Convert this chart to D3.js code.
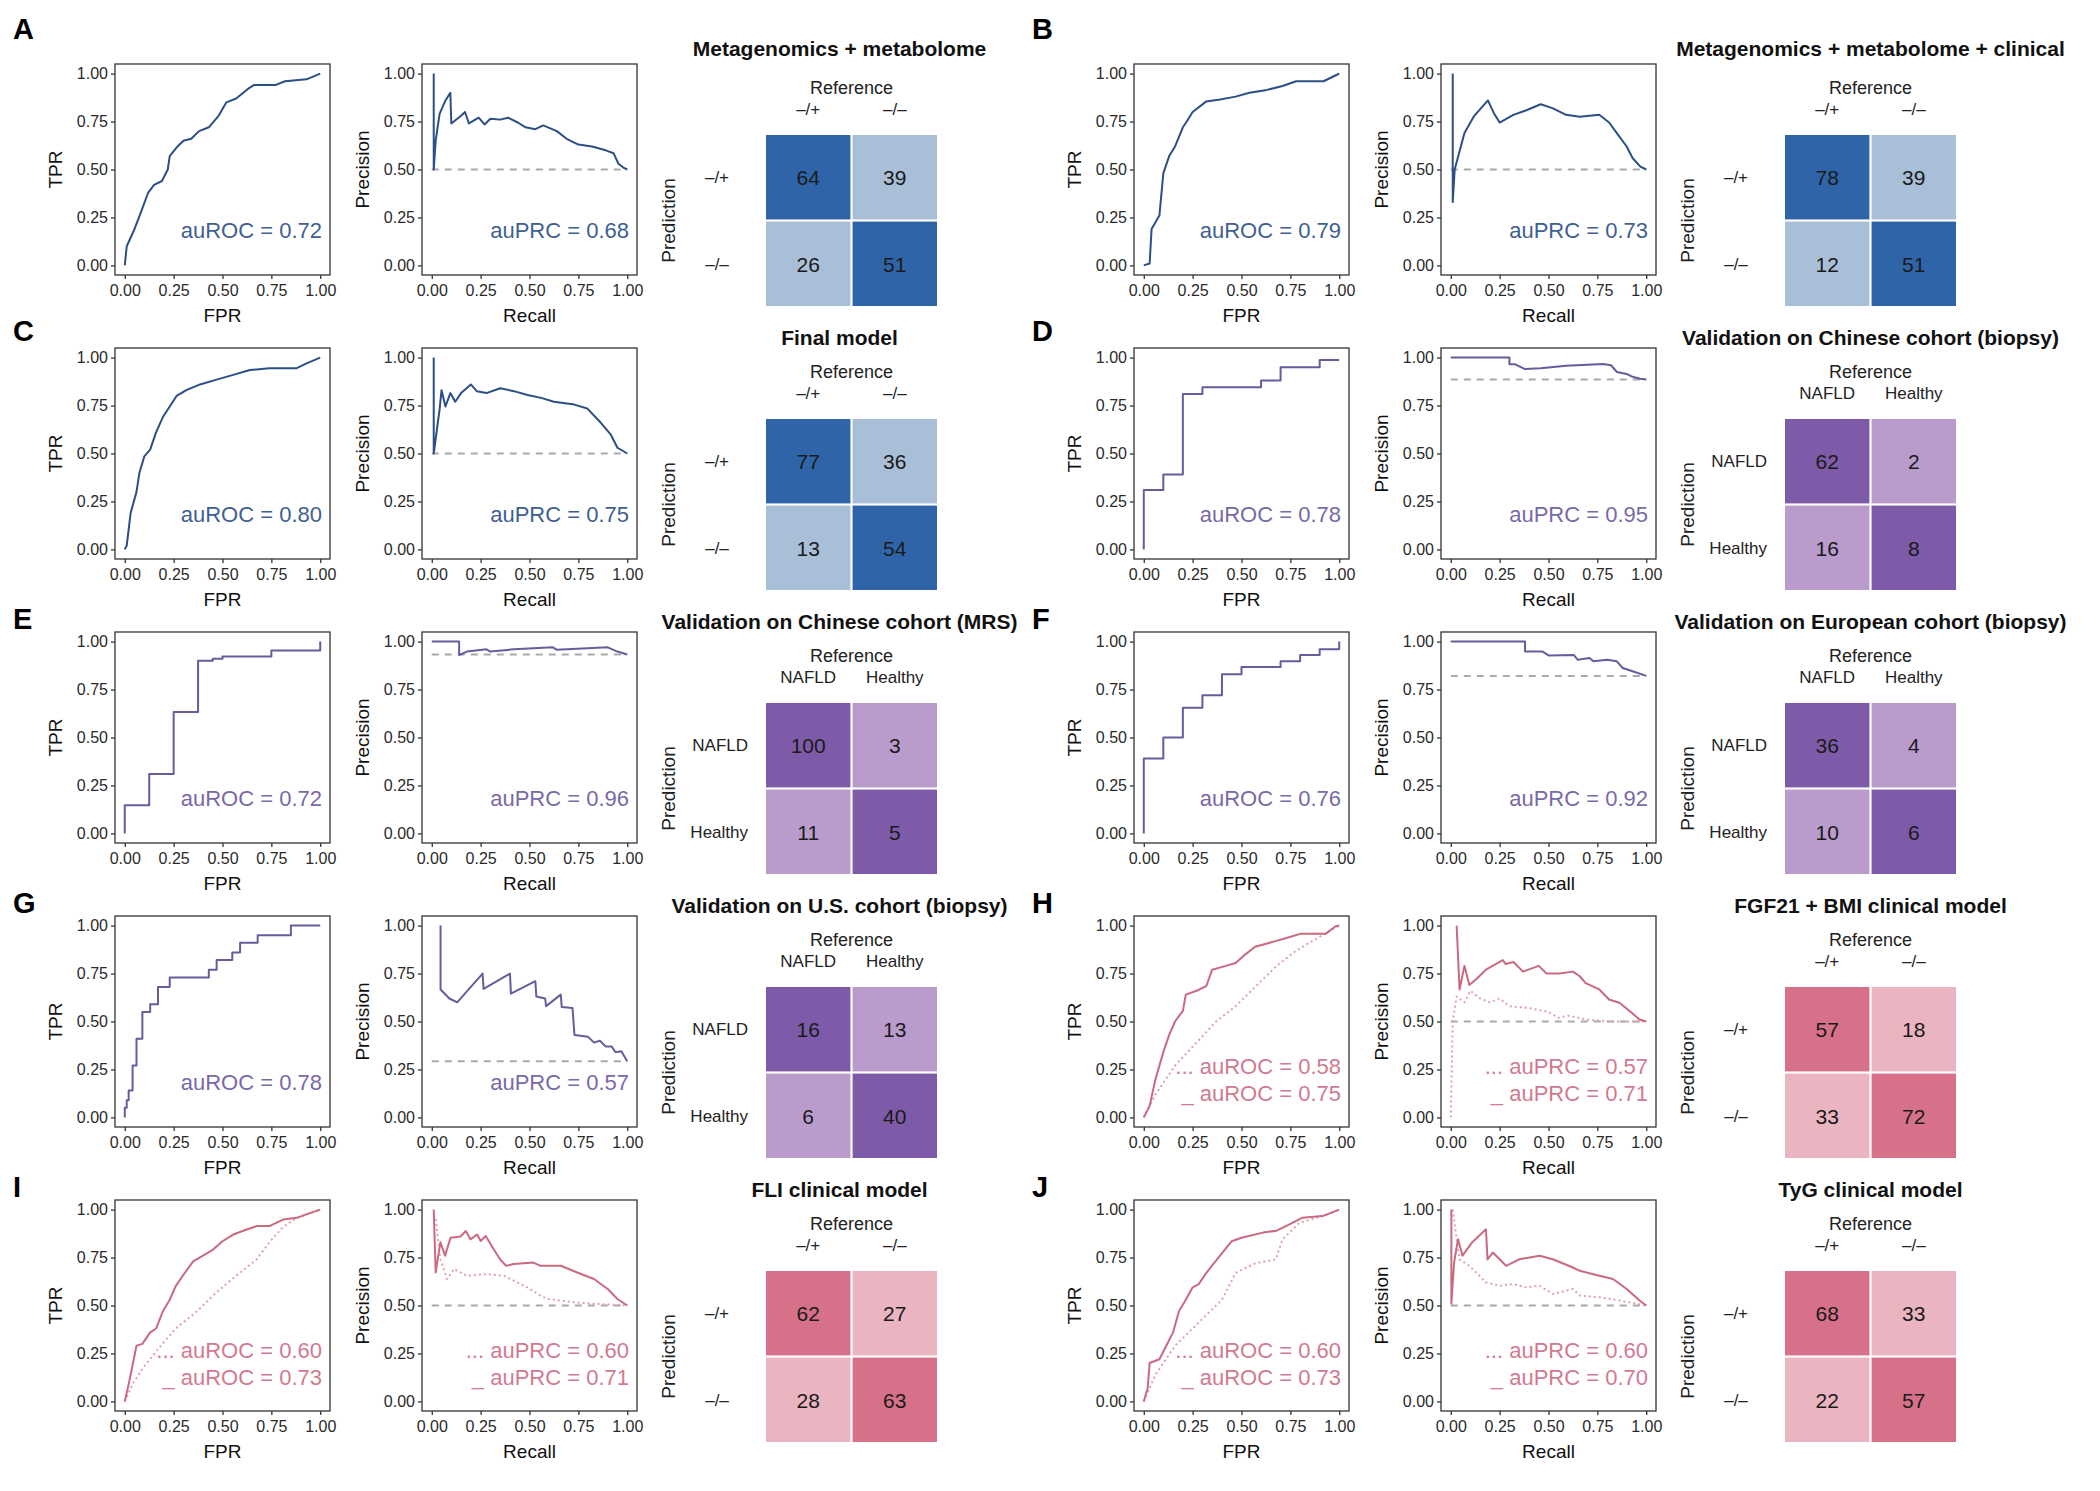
<!DOCTYPE html>
<html><head><meta charset="utf-8">
<script src="https://cdn.jsdelivr.net/npm/d3@7"></script>
<style>body{margin:0;background:#fff}svg{display:block}text{font-family:"Liberation Sans",Arial,Helvetica,sans-serif}</style>
</head><body><svg id="c" width="2100" height="1491"></svg>
<script>
// ---------------- DATA ----------------
const panelLetters = ["A","B","C","D","E","F","G","H","I","J"];
const panelTitles = ["Metagenomics + metabolome","Metagenomics + metabolome + clinical","Final model",
  "Validation on Chinese cohort (biopsy)","Validation on Chinese cohort (MRS)","Validation on European cohort (biopsy)",
  "Validation on U.S. cohort (biopsy)","FGF21 + BMI clinical model","FLI clinical model","TyG clinical model"];
const themes = ["blue","blue","blue","purple","purple","purple","purple","pink","pink","pink"];
const classLabelsSign = ["\u2013/+","\u2013/\u2013"];
const classLabelsNafld = ["NAFLD","Healthy"];
const axisTicks = [0,0.25,0.5,0.75,1];

// confusion matrices: [pred+ & ref+, pred+ & ref-, pred- & ref+, pred- & ref-]
const cmA = [64,39,26,51];
const cmB = [78,39,12,51];
const cmC = [77,36,13,54];
const cmD = [62,2,16,8];
const cmE = [100,3,11,5];
const cmF = [36,4,10,6];
const cmG = [16,13,6,40];
const cmH = [57,18,33,72];
const cmI = [62,27,28,63];
const cmJ = [68,33,22,57];

// PR baselines (prevalence)
const prBaselines = [0.5,0.5,0.5,0.886,0.933,0.821,0.293,0.5,0.5,0.5];

const aurocLabels = [["auROC = 0.72"],["auROC = 0.79"],["auROC = 0.80"],["auROC = 0.78"],["auROC = 0.72"],["auROC = 0.76"],["auROC = 0.78"],
  ["... auROC = 0.58","_  auROC = 0.75"],["... auROC = 0.60","_  auROC = 0.73"],["... auROC = 0.60","_  auROC = 0.73"]];
const auprcLabels = [["auPRC = 0.68"],["auPRC = 0.73"],["auPRC = 0.75"],["auPRC = 0.95"],["auPRC = 0.96"],["auPRC = 0.92"],["auPRC = 0.57"],
  ["... auPRC = 0.57","_  auPRC = 0.71"],["... auPRC = 0.60","_  auPRC = 0.71"],["... auPRC = 0.60","_  auPRC = 0.70"]];

// ROC curves [FPR, TPR]
const rocA = [[0,0],[0.01,0.1],[0.05,0.19],[0.08,0.27],[0.12,0.38],[0.15,0.42],[0.19,0.44],[0.22,0.50],[0.23,0.57],[0.27,0.62],[0.30,0.65],[0.34,0.66],[0.38,0.70],[0.43,0.72],[0.48,0.78],[0.52,0.85],[0.57,0.87],[0.63,0.92],[0.66,0.94],[0.77,0.94],[0.82,0.96],[0.93,0.97],[1,1]];
const rocB = [[0,0],[0.03,0.01],[0.04,0.19],[0.08,0.26],[0.10,0.48],[0.13,0.57],[0.16,0.62],[0.20,0.72],[0.22,0.75],[0.25,0.80],[0.32,0.855],[0.39,0.865],[0.47,0.88],[0.54,0.90],[0.63,0.915],[0.71,0.935],[0.78,0.96],[0.92,0.96],[0.98,0.99],[1,1]];
const rocC = [[0,0],[0.01,0.02],[0.03,0.19],[0.06,0.3],[0.075,0.40],[0.10,0.485],[0.13,0.52],[0.16,0.61],[0.195,0.69],[0.23,0.745],[0.265,0.80],[0.315,0.83],[0.385,0.86],[0.47,0.885],[0.555,0.91],[0.64,0.935],[0.74,0.945],[0.88,0.945],[0.93,0.97],[1,1]];
const rocD = [[0,0],[0,0.31],[0.1,0.31],[0.1,0.39],[0.2,0.39],[0.2,0.81],[0.3,0.81],[0.3,0.845],[0.6,0.845],[0.6,0.88],[0.7,0.88],[0.7,0.95],[0.9,0.95],[0.9,0.987],[1,0.987]];
const rocE = [[0,0],[0,0.147],[0.125,0.147],[0.125,0.31],[0.25,0.31],[0.25,0.633],[0.375,0.633],[0.375,0.9],[0.45,0.9],[0.45,0.91],[0.5,0.91],[0.5,0.922],[0.75,0.922],[0.75,0.953],[1,0.953],[1,1]];
const rocF = [[0,0],[0,0.39],[0.1,0.39],[0.1,0.5],[0.2,0.5],[0.2,0.655],[0.3,0.655],[0.3,0.72],[0.4,0.72],[0.4,0.83],[0.5,0.83],[0.5,0.867],[0.7,0.867],[0.7,0.897],[0.8,0.897],[0.8,0.93],[0.9,0.93],[0.9,0.96],[1,0.96],[1,1]];
const rocG = [[0,0],[0,0.05],[0.01,0.05],[0.01,0.09],[0.02,0.09],[0.02,0.14],[0.04,0.14],[0.04,0.27],[0.06,0.27],[0.06,0.41],[0.09,0.41],[0.09,0.55],[0.13,0.55],[0.13,0.59],[0.17,0.59],[0.17,0.68],[0.23,0.68],[0.23,0.73],[0.43,0.73],[0.43,0.77],[0.47,0.77],[0.47,0.82],[0.55,0.82],[0.55,0.86],[0.59,0.86],[0.59,0.91],[0.68,0.91],[0.68,0.95],[0.85,0.95],[0.85,1],[1,1]];
const rocHdot = [[0,0],[0.06,0.12],[0.16,0.27],[0.27,0.39],[0.37,0.50],[0.47,0.58],[0.57,0.68],[0.68,0.79],[0.78,0.87],[0.88,0.93],[1,1]];
const rocHsolid = [[0,0],[0.03,0.06],[0.06,0.2],[0.08,0.27],[0.10,0.34],[0.13,0.43],[0.16,0.50],[0.20,0.555],[0.215,0.64],[0.27,0.66],[0.32,0.685],[0.35,0.77],[0.42,0.79],[0.47,0.805],[0.52,0.85],[0.57,0.89],[0.66,0.915],[0.73,0.935],[0.80,0.957],[0.93,0.957],[0.98,0.995],[1,1]];
const rocIdot = [[0,0],[0.04,0.09],[0.09,0.17],[0.16,0.26],[0.26,0.38],[0.37,0.47],[0.47,0.57],[0.57,0.655],[0.675,0.74],[0.74,0.83],[0.81,0.91],[0.88,0.957],[1,1]];
const rocIsolid = [[0,0],[0.02,0.09],[0.04,0.19],[0.06,0.29],[0.09,0.30],[0.13,0.36],[0.16,0.38],[0.195,0.47],[0.23,0.53],[0.26,0.60],[0.30,0.66],[0.35,0.73],[0.40,0.76],[0.45,0.79],[0.50,0.835],[0.555,0.87],[0.62,0.895],[0.675,0.914],[0.74,0.914],[0.81,0.948],[0.88,0.957],[0.95,0.983],[1,1]];
const rocJdot = [[0,0],[0.06,0.14],[0.16,0.29],[0.30,0.43],[0.40,0.53],[0.47,0.67],[0.57,0.72],[0.675,0.74],[0.71,0.845],[0.795,0.93],[0.915,0.966],[1,1]];
const rocJsolid = [[0,0],[0.02,0.07],[0.03,0.2],[0.08,0.22],[0.11,0.28],[0.15,0.36],[0.18,0.47],[0.215,0.53],[0.25,0.595],[0.28,0.61],[0.32,0.67],[0.39,0.76],[0.45,0.835],[0.50,0.853],[0.61,0.88],[0.68,0.89],[0.74,0.92],[0.81,0.957],[0.915,0.966],[1,1]];

// PR curves [Recall, Precision]
const prA = [[0.01,1],[0.01,0.5],[0.02,0.65],[0.04,0.79],[0.07,0.86],[0.095,0.90],[0.10,0.74],[0.15,0.78],[0.17,0.80],[0.19,0.74],[0.24,0.77],[0.27,0.735],[0.30,0.765],[0.35,0.76],[0.39,0.77],[0.44,0.745],[0.48,0.72],[0.53,0.71],[0.57,0.73],[0.64,0.70],[0.69,0.66],[0.75,0.63],[0.82,0.62],[0.89,0.60],[0.93,0.585],[0.955,0.53],[0.98,0.51],[1,0.5]];
const prB = [[0.01,1],[0.01,0.33],[0.02,0.5],[0.07,0.69],[0.12,0.78],[0.19,0.86],[0.22,0.795],[0.25,0.745],[0.32,0.785],[0.39,0.81],[0.46,0.84],[0.52,0.82],[0.59,0.785],[0.66,0.775],[0.76,0.785],[0.81,0.745],[0.86,0.675],[0.90,0.62],[0.93,0.56],[0.97,0.515],[1,0.5]];
const prC = [[0.01,1],[0.01,0.5],[0.04,0.73],[0.05,0.83],[0.07,0.745],[0.095,0.815],[0.12,0.77],[0.15,0.815],[0.20,0.86],[0.23,0.825],[0.28,0.815],[0.35,0.84],[0.42,0.825],[0.49,0.805],[0.56,0.79],[0.625,0.77],[0.73,0.755],[0.795,0.735],[0.865,0.66],[0.915,0.6],[0.95,0.53],[1,0.5]];
const prD = [[0,1],[0.3,1],[0.3,0.965],[0.33,0.965],[0.38,0.94],[0.46,0.945],[0.59,0.957],[0.78,0.966],[0.82,0.96],[0.85,0.925],[0.9,0.915],[0.93,0.9],[0.97,0.89],[1,0.886]];
const prE = [[0,1],[0.14,1],[0.14,0.93],[0.18,0.948],[0.28,0.96],[0.30,0.948],[0.42,0.96],[0.62,0.97],[0.64,0.957],[0.90,0.97],[0.95,0.948],[1,0.933]];
const prF = [[0,1],[0.38,1],[0.38,0.948],[0.47,0.948],[0.5,0.928],[0.63,0.93],[0.65,0.905],[0.71,0.914],[0.73,0.897],[0.8,0.905],[0.85,0.897],[0.88,0.862],[0.93,0.845],[1,0.821]];
const prG = [[0.045,1],[0.045,0.667],[0.09,0.62],[0.13,0.60],[0.26,0.75],[0.265,0.67],[0.40,0.75],[0.405,0.645],[0.53,0.71],[0.535,0.63],[0.58,0.62],[0.585,0.58],[0.66,0.64],[0.665,0.575],[0.72,0.57],[0.73,0.43],[0.80,0.42],[0.83,0.39],[0.86,0.40],[0.89,0.37],[0.92,0.37],[0.94,0.34],[0.97,0.345],[1,0.293]];
const prHdot = [[0,0],[0.01,0.5],[0.03,0.63],[0.07,0.6],[0.1,0.66],[0.15,0.62],[0.2,0.6],[0.25,0.62],[0.3,0.58],[0.4,0.57],[0.5,0.55],[0.55,0.52],[0.6,0.53],[0.7,0.51],[0.8,0.5],[1,0.5]];
const prHsolid = [[0.03,1],[0.045,0.667],[0.07,0.79],[0.095,0.69],[0.13,0.72],[0.18,0.77],[0.266,0.82],[0.28,0.80],[0.32,0.81],[0.37,0.76],[0.45,0.79],[0.49,0.75],[0.556,0.75],[0.625,0.76],[0.66,0.736],[0.69,0.70],[0.76,0.667],[0.81,0.615],[0.863,0.598],[0.915,0.555],[0.966,0.51],[1,0.5]];
const prIdot = [[0.02,0.95],[0.044,0.74],[0.078,0.638],[0.113,0.69],[0.18,0.655],[0.283,0.664],[0.37,0.655],[0.437,0.62],[0.488,0.595],[0.556,0.552],[0.59,0.534],[0.66,0.526],[0.727,0.517],[0.83,0.509],[1,0.5]];
const prIsolid = [[0.01,1],[0.02,0.672],[0.044,0.83],[0.068,0.76],[0.096,0.853],[0.147,0.86],[0.174,0.888],[0.198,0.845],[0.232,0.87],[0.25,0.836],[0.276,0.862],[0.317,0.793],[0.35,0.74],[0.38,0.707],[0.42,0.716],[0.52,0.724],[0.556,0.707],[0.66,0.707],[0.744,0.672],[0.83,0.638],[0.9,0.586],[0.95,0.534],[1,0.5]];
const prJdot = [[0.01,1],[0.044,0.741],[0.095,0.707],[0.147,0.655],[0.18,0.62],[0.25,0.603],[0.317,0.612],[0.386,0.595],[0.454,0.603],[0.522,0.56],[0.625,0.586],[0.66,0.552],[0.76,0.543],[0.863,0.526],[1,0.5]];
const prJsolid = [[0.003,1],[0.003,0.509],[0.017,0.724],[0.037,0.845],[0.06,0.76],[0.11,0.83],[0.18,0.897],[0.188,0.74],[0.215,0.776],[0.283,0.707],[0.35,0.741],[0.454,0.759],[0.522,0.741],[0.625,0.698],[0.66,0.681],[0.76,0.655],[0.83,0.638],[0.9,0.586],[0.966,0.526],[1,0.5]];

// ---------------- ASSEMBLY ----------------
const rocSeries = [[rocA],[rocB],[rocC],[rocD],[rocE],[rocF],[rocG],[rocHdot,rocHsolid],[rocIdot,rocIsolid],[rocJdot,rocJsolid]];
const prSeries = [[prA],[prB],[prC],[prD],[prE],[prF],[prG],[prHdot,prHsolid],[prIdot,prIsolid],[prJdot,prJsolid]];
const matrices = [cmA,cmB,cmC,cmD,cmE,cmF,cmG,cmH,cmI,cmJ];

const palette = {
  blue:   {line:"#2c4f86", text:"#3f5f92", dark:"#2f65a8", light:"#a9bfd8"},
  purple: {line:"#6b5a9c", text:"#7a69a8", dark:"#7e5ba8", light:"#b99ccc"},
  pink:   {line:"#c96a80", dot:"#e0a0ae", text:"#d27a90", dark:"#d7718a", light:"#eab4c0"}
};

const svg = d3.select("#c");
const W = 215, H = 211, M = 171;

panelLetters.forEach((letter, i) => {
  const col = i % 2, row = Math.floor(i / 2);
  const ox = col * 1019, oy = row * 284;
  const pal = palette[themes[i]];
  const g = svg.append("g");

  // panel letter
  g.append("text").attr("x", ox + 13).attr("y", oy + (row === 0 ? 39 : row === 1 ? 57 : 61))
    .attr("font-size", 29).attr("font-weight", "bold").attr("fill", "#000").text(letter);

  const plots = [
    {bx: ox + 115, series: rocSeries[i], labels: aurocLabels[i], xl: "FPR", yl: "TPR", base: null},
    {bx: ox + 422, series: prSeries[i], labels: auprcLabels[i], xl: "Recall", yl: "Precision", base: prBaselines[i]}
  ];
  plots.forEach(p => {
    const by = oy + 64;
    const x = d3.scaleLinear().domain([-0.05, 1.05]).range([p.bx, p.bx + W]);
    const y = d3.scaleLinear().domain([-0.05, 1.05]).range([by + H, by]);
    const fmt = d3.format(".2f");
    const ax = g.append("g").attr("transform", `translate(0,${by + H})`)
      .call(d3.axisBottom(x).tickValues(axisTicks).tickFormat(fmt).tickSize(4).tickPadding(6));
    const ay = g.append("g").attr("transform", `translate(${p.bx},0)`)
      .call(d3.axisLeft(y).tickValues(axisTicks).tickFormat(fmt).tickSize(4).tickPadding(3));
    [ax, ay].forEach(a => {
      a.select(".domain").remove();
      a.selectAll(".tick line").attr("stroke", "#333").attr("stroke-width", 1.3);
      a.selectAll(".tick text").attr("font-size", 16).attr("fill", "#2a2a2a")
        .attr("font-family", '"Liberation Sans",Arial,sans-serif');
    });
    // baseline
    if (p.base !== null) {
      g.append("line").attr("x1", x(0)).attr("x2", x(1)).attr("y1", y(p.base)).attr("y2", y(p.base))
        .attr("stroke", "#aaaaaa").attr("stroke-width", 2).attr("stroke-dasharray", "7,6");
    }
    const line = d3.line().x(d => x(d[0])).y(d => y(d[1]));
    p.series.forEach((s, k) => {
      const dotted = p.series.length > 1 && k === 0;
      g.append("path").datum(s).attr("d", line).attr("fill", "none")
        .attr("stroke", dotted ? pal.dot : pal.line).attr("stroke-width", dotted ? 2 : 2)
        .attr("stroke-dasharray", dotted ? "2,3" : null).attr("stroke-linejoin", "round");
    });
    // border
    g.append("rect").attr("x", p.bx).attr("y", by).attr("width", W).attr("height", H)
      .attr("fill", "none").attr("stroke", "#333").attr("stroke-width", 1.3);
    // labels inside
    const n = p.labels.length;
    p.labels.forEach((t, k) => {
      const yy = n === 1 ? by + 174 : by + 158 + k * 27;
      g.append("text").attr("x", p.bx + W - 8).attr("y", yy).attr("text-anchor", "end")
        .attr("font-size", 22).attr("fill", pal.text).text(t);
    });
    // axis titles
    g.append("text").attr("x", p.bx + W / 2).attr("y", by + H + 47).attr("text-anchor", "middle")
      .attr("font-size", 19).attr("fill", "#111").text(p.xl);
    g.append("text").attr("transform", `translate(${p.bx - 53},${by + H / 2}) rotate(-90)`)
      .attr("text-anchor", "middle").attr("font-size", 19).attr("fill", "#111").text(p.yl);
  });

  // confusion matrix
  const mx = ox + 766, my = oy + 135;
  const classes = themes[i] === "purple" ? classLabelsNafld : classLabelsSign;
  const bx = d3.scaleBand().domain([0, 1]).range([mx, mx + M]).paddingInner(0.025);
  const byS = d3.scaleBand().domain([0, 1]).range([my, my + M]).paddingInner(0.025);
  const cm = matrices[i];
  cm.forEach((v, k) => {
    const r = Math.floor(k / 2), c = k % 2;
    g.append("rect").attr("x", bx(c)).attr("y", byS(r)).attr("width", bx.bandwidth()).attr("height", byS.bandwidth())
      .attr("fill", r === c ? pal.dark : pal.light);
    g.append("text").attr("x", bx(c) + bx.bandwidth() / 2).attr("y", byS(r) + byS.bandwidth() / 2 + 8)
      .attr("text-anchor", "middle").attr("font-size", 21).attr("fill", "#1a1a1a").text(v);
  });
  // title and axis labels
  g.append("text").attr("x", mx + M / 2 - (col === 0 ? 12 : 0)).attr("y", oy + (row === 0 ? 56 : 61)).attr("text-anchor", "middle")
    .attr("font-size", 21).attr("font-weight", "bold").attr("fill", "#111").text(panelTitles[i]);
  g.append("text").attr("x", mx + M / 2).attr("y", oy + 94).attr("text-anchor", "middle")
    .attr("font-size", 18).attr("fill", "#222").text("Reference");
  classes.forEach((lab, c) => {
    g.append("text").attr("x", bx(c) + bx.bandwidth() / 2).attr("y", oy + 115).attr("text-anchor", "middle")
      .attr("font-size", 17).attr("fill", "#222").text(lab);
    const isSign = classes === classLabelsSign;
    g.append("text").attr("x", isSign ? mx - 49 : mx - 18).attr("y", byS(c) + byS.bandwidth() / 2 + 6)
      .attr("text-anchor", isSign ? "middle" : "end").attr("font-size", 17).attr("fill", "#222").text(lab);
  });
  g.append("text").attr("transform", `translate(${mx - 91},${my + M / 2}) rotate(-90)`)
    .attr("text-anchor", "middle").attr("font-size", 19).attr("fill", "#222").text("Prediction");
});
</script></body></html>
